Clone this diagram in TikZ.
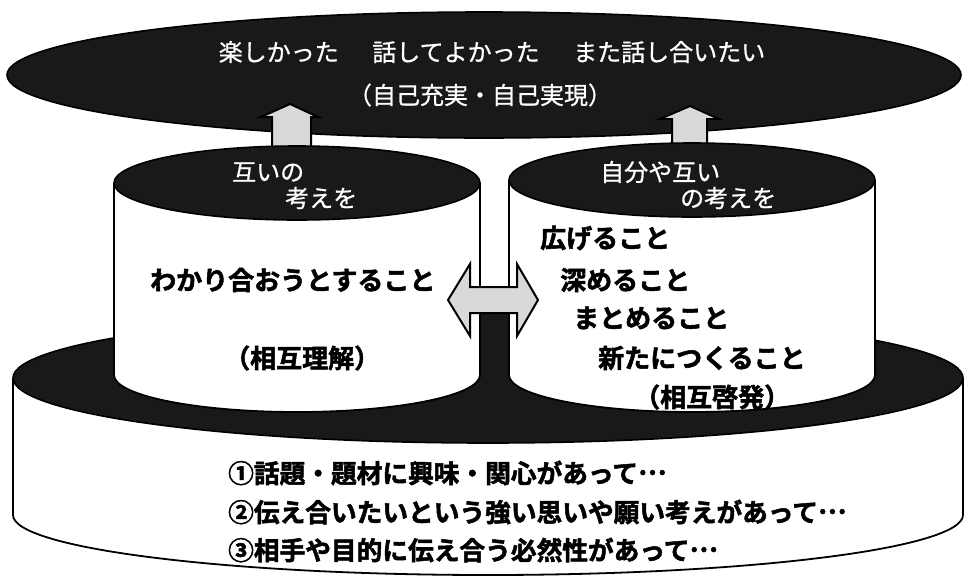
\documentclass[tikz,border=0pt]{standalone}
\usepackage{fontspec}
\newfontfamily\jp{Noto Sans CJK JP}[FakeBold=0.8]
\newfontfamily\jpb{Noto Sans CJK JP Bold}[FakeBold=2]
\newfontfamily\jpf{Noto Sans CJK JP Bold}[CharacterWidth=Full,FakeBold=2]
\begin{document}
\begin{tikzpicture}[x=1pt,y=-1pt,
  dark/.style={fill=black!90,draw=black,line width=1.6pt},
  body/.style={fill=white,draw=black,line width=1.8pt},
  blockarrow/.style={fill=black!15,draw=black,line width=2pt,line join=miter},
  wtxt/.style={text=white,inner sep=0pt,font=\jp\fontsize{24pt}{28pt}\selectfont},
  btxt/.style={text=black,inner sep=0pt,anchor=west,font=\jpb\fontsize{26pt}{30pt}\selectfont},
  ltxt/.style={text=black,inner sep=0pt,anchor=west,font=\jpf\fontsize{25.7pt}{29pt}\selectfont}]
\useasboundingbox (0,0) rectangle (965,579);
\fill[white] (0,0) rectangle (965,579);
% base cylinder
\draw[body] (13,378) -- (13,515) arc[start angle=180,end angle=0,x radius=475,y radius=60] -- (963,378);
\draw[dark] (488,378) ellipse[x radius=475,y radius=65];
% top ellipse
\draw[dark] (484,75) ellipse[x radius=477,y radius=63];
\node[wtxt] (goal) at (492,52) {楽しかった\hspace{1.4em}話してよかった\hspace{1.4em}また話し合いたい};
\node[wtxt] (goal2) at (480,95) {（自己充実・自己実現）};
% up arrows
\draw[blockarrow] (272,160) -- (272,117) -- (261,117) -- (290,104) -- (318,117) -- (311,117) -- (311,160);
\draw[blockarrow] (672,160) -- (672,119) -- (660,119) -- (690,106) -- (719,119) -- (707,119) -- (707,160);
% left cylinder
\draw[body] (114,183) -- (114,375) arc[start angle=180,end angle=0,x radius=183,y radius=37] -- (480,183);
\draw[dark] (297,183) ellipse[x radius=183,y radius=37];
% right cylinder
\draw[body] (509,180) -- (509,375) arc[start angle=180,end angle=0,x radius=183,y radius=37] -- (875,180);
\draw[dark] (692,180) ellipse[x radius=183,y radius=37];
% double arrow
\draw[blockarrow] (448,300) -- (470,264) -- (470,287) -- (517,287) -- (517,264) -- (538,300) -- (517,336) -- (517,313) -- (470,313) -- (470,336) -- cycle;
% texts
\node[wtxt,anchor=west] (l1) at (232,172) {互いの};
\node[wtxt,anchor=west] (l2) at (285,198) {考えを};
\node[wtxt,anchor=west] (r1) at (600,172) {自分や互い};
\node[wtxt,anchor=west] (r2) at (680,198) {の考えを};
\node[btxt] (lb1) at (150,280) {わかり合おうとすること};
\node[btxt] (lb2) at (224,358) {（相互理解）};
\node[btxt] (rb1) at (540,238) {広げること};
\node[btxt] (rb2) at (560,280) {深めること};
\node[btxt] (rb3) at (573,318) {まとめること};
\node[btxt] (rb4) at (598,358) {新たにつくること};
\node[btxt] (rb5) at (634,397) {（相互啓発）};
\node[ltxt] (c1) at (228,473) {①話題・題材に興味・関心があって\raisebox{0.32em}{…}};
\node[ltxt] (c2) at (228,512) {②伝え合いたいという強い思いや願い考えがあって\raisebox{0.32em}{…}};
\node[ltxt] (c3) at (228,550) {③相手や目的に伝え合う必然性があって\raisebox{0.32em}{…}};
\end{tikzpicture}
\end{document}
